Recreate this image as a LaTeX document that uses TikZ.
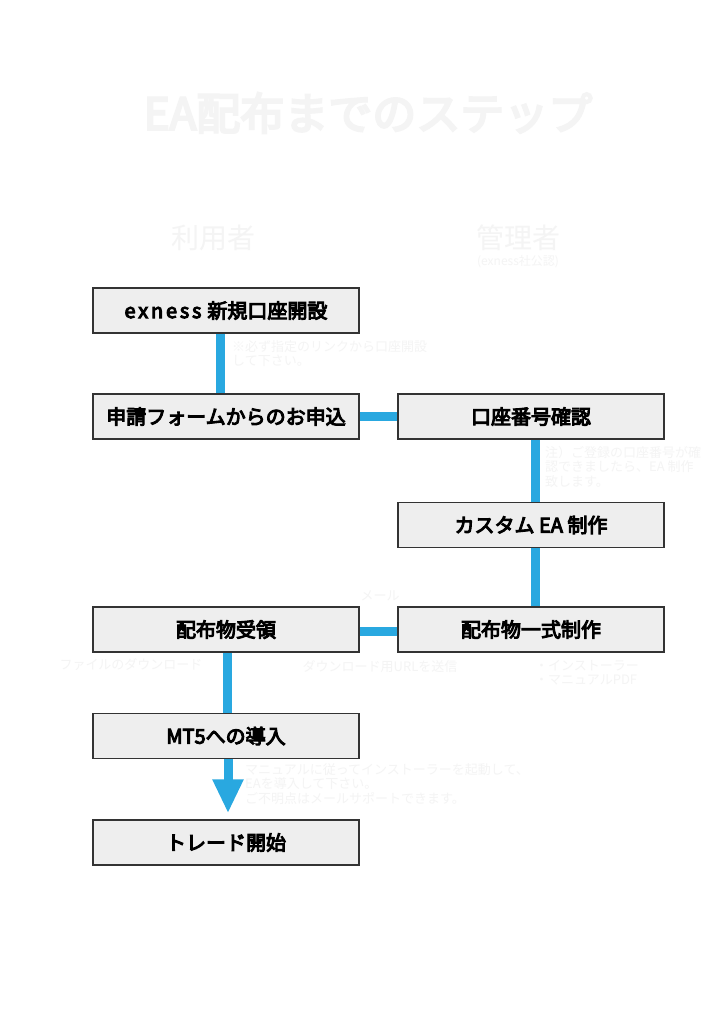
\documentclass[tikz,border=0pt]{standalone}
\usepackage{fontspec}
\usetikzlibrary{arrows.meta}
\newfontfamily\jpfont{Noto Sans CJK JP}
\newfontfamily\jpbold{Noto Sans CJK JP}[FakeBold=5]
\definecolor{flowblue}{HTML}{29A8E0}
\definecolor{boxfill}{HTML}{EEEEEE}
\definecolor{boxline}{HTML}{333333}
\definecolor{faint}{HTML}{F4F4F4}

\begin{document}
\begin{tikzpicture}[x=1pt,y=-1pt]
\tikzstyle{every node}=[font=\jpfont]
\tikzstyle{stepbox}=[draw=boxline,line width=1.5pt,fill=boxfill,minimum width=266pt,minimum height=45pt,inner sep=0pt,font=\jpbold\fontsize{20}{24}\selectfont]
\tikzstyle{link}=[flowblue,line width=9pt]
\tikzstyle{memo}=[text=faint,inner sep=0pt,align=left,font=\jpfont\fontsize{13}{14.5}\selectfont]
\fill[white](0,0) rectangle (717,1015);
\useasboundingbox (0,0) rectangle (717,1015);

\node[text=faint,font=\jpbold\fontsize{44}{48}\selectfont] (title) at (368,113) {EA配布までのステップ};
\node[text=faint,font=\jpfont\fontsize{28}{30}\selectfont] (user) at (213,238) {利用者};
\node[text=faint,font=\jpfont\fontsize{28}{30}\selectfont] (admin) at (518,238) {管理者};
\node[text=faint,font=\jpfont\fontsize{12}{13}\selectfont] (adminsub) at (518,262) {(exness社公認)};

\node[stepbox] (open) at (226,310.5) {{\addfontfeature{LetterSpace=14}exness}\hspace{6pt}新規口座開設\hspace{8pt}};
\node[stepbox] (apply) at (226,416.5) {申請フォームからのお申込};
\node[stepbox] (check) at (531,416.5) {口座番号確認};
\node[stepbox] (custom) at (531,525) {カスタム EA 制作};
\node[stepbox] (pack) at (531,629.5) {配布物一式制作};
\node[stepbox] (receive) at (226,629.5) {配布物受領};
\node[stepbox] (install) at (226,736) {MT5への導入};
\node[stepbox] (trade) at (226,842.5) {トレード開始};

\draw[link]([xshift=-6pt]open.south)--([xshift=-6pt]apply.north);
\draw[link](apply.east)--(check.west);
\draw[link]([xshift=4pt]check.south)--([xshift=4pt]custom.north);
\draw[link]([xshift=4pt]custom.south)--([xshift=4pt]pack.north);
\draw[link]([yshift=-1.5pt]pack.west)--([yshift=-1.5pt]receive.east);
\draw[link]([xshift=1pt]receive.south)--([xshift=1pt]install.north);
\draw[link,-{Triangle[width=29pt,length=34pt]},shorten >=6pt]([xshift=2pt]install.south)--([xshift=2pt]trade.north);

\node[memo,anchor=north west] (note1) at (232,340) {※必ず指定のリンクから口座開設\\して下さい。};
\node[memo,anchor=north west] (note2) at (545,446) {注）ご登録の口座番号が確\\認できましたら、EA 制作\\致します。};
\node[memo] (mail) at (380,596) {メール};
\node[memo] (dlfile) at (131,665) {ファイルのダウンロード};
\node[memo] (sendurl) at (380,667) {ダウンロード用URLを送信};
\node[memo,anchor=north west] (items) at (535,660) {・インストーラー\\・マニュアルPDF};
\node[memo,anchor=north west] (note3) at (245,763) {マニュアルに従ってインストーラーを起動して、\\EAを導入して下さい。\\ご不明点はメールサポートできます。};

\end{tikzpicture}
\end{document}
